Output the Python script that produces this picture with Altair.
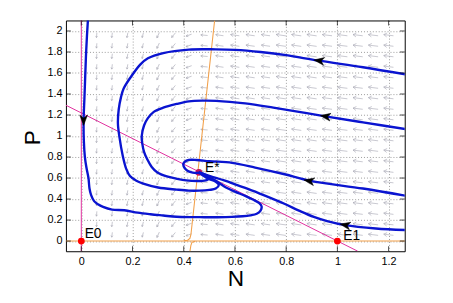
import altair as alt
import pandas as pd

# ---------------- data ----------------
# trajectories (N, P)
t1_N = [1.27, 1.10, 0.928, 0.80, 0.70, 0.60, 0.525, 0.42, 0.32, 0.26, 0.23, 0.19, 0.165, 0.155, 0.146, 0.143,
        0.149, 0.162, 0.175, 0.19, 0.215, 0.245, 0.30, 0.372, 0.42, 0.46, 0.50, 0.525, 0.537, 0.525, 0.50, 0.475, 0.459]
t1_P = [1.585, 1.655, 1.717, 1.77, 1.80, 1.82, 1.825, 1.823, 1.79, 1.74, 1.68, 1.55, 1.45, 1.37, 1.25, 1.12,
        0.99, 0.81, 0.69, 0.62, 0.575, 0.545, 0.51, 0.49, 0.48, 0.48, 0.487, 0.50, 0.535, 0.565, 0.59, 0.625, 0.654]

t2_N = [1.27, 1.10, 0.953, 0.85, 0.75, 0.64, 0.526, 0.475, 0.42, 0.372, 0.32, 0.283, 0.26, 0.245, 0.236, 0.238,
        0.245, 0.258, 0.275, 0.296, 0.334, 0.37, 0.41, 0.46, 0.49, 0.50, 0.49, 0.475, 0.459]
t2_P = [1.065, 1.13, 1.187, 1.23, 1.27, 1.31, 1.335, 1.337, 1.33, 1.305, 1.27, 1.23, 1.17, 1.10, 1.0, 0.93,
        0.85, 0.776, 0.705, 0.655, 0.615, 0.595, 0.578, 0.572, 0.58, 0.60, 0.625, 0.642, 0.654]

t3_N = [1.27, 1.10, 0.895, 0.794, 0.679, 0.589, 0.50, 0.45, 0.42, 0.404, 0.398, 0.405, 0.417, 0.435, 0.449, 0.459]
t3_P = [0.43, 0.50, 0.573, 0.636, 0.70, 0.745, 0.76, 0.772, 0.772, 0.755, 0.73, 0.69, 0.666, 0.652, 0.648, 0.654]

t4_N = [1.27, 1.15, 1.03, 0.96, 0.908, 0.85, 0.793, 0.717, 0.653, 0.60, 0.564, 0.50, 0.459]
t4_P = [0.105, 0.12, 0.152, 0.19, 0.23, 0.29, 0.355, 0.433, 0.495, 0.54, 0.573, 0.62, 0.654]

t5_N = [0.026, 0.022, 0.018, 0.015, 0.012, 0.009, 0.01, 0.014, 0.02, 0.028, 0.032, 0.038, 0.05, 0.065, 0.085,
        0.12, 0.168, 0.22, 0.27, 0.32, 0.372, 0.43, 0.48, 0.53, 0.589, 0.63, 0.66, 0.685, 0.70, 0.704, 0.695,
        0.67, 0.64, 0.60, 0.565, 0.54, 0.513, 0.49, 0.468, 0.459]
t5_P = [2.11, 1.95, 1.75, 1.55, 1.35, 1.15, 0.95, 0.80, 0.70, 0.60, 0.50, 0.44, 0.38, 0.35, 0.325,
        0.30, 0.293, 0.27, 0.255, 0.243, 0.231, 0.228, 0.227, 0.227, 0.23, 0.236, 0.245, 0.26, 0.29, 0.33, 0.36,
        0.395, 0.43, 0.47, 0.51, 0.55, 0.59, 0.62, 0.64, 0.654]

# direction arrowheads on trajectories
arrow_N = [0.928, 0.953, 0.889, 1.03, 0.009]
arrow_P = [1.717, 1.187, 0.573, 0.152, 1.15]
arrow_angle = [188, 189, 190, 191, 90]

# nullclines
mag_N = [[0, 0], [-0.06, 1.079]]
mag_P = [[-0.1, 2.15], [1.293, -0.096]]
ora_N = [[-0.07, 1.27], [0.5206, 0.428, 0.424, 0.415, 0.40], [0.445, 0.432, 0.428, 0.424]]
ora_P = [[0, 0], [2.1, 0.06, 0.025, 0.008, 0.003], [-0.003, -0.012, -0.04, -0.1]]

# equilibria
eq_N = [0, 1, 0.459]
eq_P = [0, 0, 0.654]
eq_color = ["#ff0000", "#ff0000", "#c0105a"]
lab_text = ["E0", "E1", "E*"]
lab_N = [0.013, 1.023, 0.483]
lab_P = [0.03, 0.012, 0.655]

# direction field grid
field_cols = [0.06, 0.12, 0.18, 0.24, 0.30, 0.36, 0.42, 0.48, 0.54, 0.60, 0.66, 0.72, 0.78, 0.84, 0.90,
              0.96, 1.02, 1.08, 1.14, 1.20]
field_rows = [0.06, 0.16, 0.26, 0.36, 0.46, 0.56, 0.66, 0.76, 0.86, 0.96, 1.06, 1.16, 1.26, 1.36, 1.46,
              1.56, 1.66, 1.76, 1.86, 1.96]
field_angle = [95, 97, 100, 105, 115, 130, 160, 185, 188, 188, 188, 188, 188, 188, 188, 187, 187, 187, 187, 187]
field_len = [5, 5, 5, 5, 6, 6, 6, 7, 8, 9, 9, 9, 10, 10, 10, 10, 10, 10, 10, 10]

x_ticks = [0, 0.2, 0.4, 0.6, 0.8, 1, 1.2]
y_ticks = [0, 0.2, 0.4, 0.6, 0.8, 1, 1.2, 1.4, 1.6, 1.8, 2]

# ---------------- build tables ----------------
W, H = 345, 235
FONT = "Liberation Sans"

def lines_df(Ns, Ps):
    rows = []
    for k, (nn, pp) in enumerate(zip(Ns, Ps)):
        for i, (a, b) in enumerate(zip(nn, pp)):
            rows.append({"id": k, "i": i, "N": a, "P": b})
    return pd.DataFrame(rows)

traj = lines_df([t1_N, t2_N, t3_N, t4_N, t5_N], [t1_P, t2_P, t3_P, t4_P, t5_P])
mag = lines_df(mag_N, mag_P)
ora = lines_df(ora_N, ora_P)

field = pd.DataFrame([
    {"N": c, "P": r, "ang": a, "sz": l * l}
    for c, a, l in zip(field_cols, field_angle, field_len) for r in field_rows
])
arrows = pd.DataFrame({"N": arrow_N, "P": arrow_P, "ang": arrow_angle})
eq = pd.DataFrame({"N": eq_N, "P": eq_P, "c": eq_color})
labs = pd.DataFrame({"N": lab_N, "P": lab_P, "t": lab_text})
xt = pd.DataFrame({"N": x_ticks})
yt = pd.DataFrame({"P": y_ticks})

xs = alt.Scale(domain=[-0.06, 1.263], nice=False, zero=False)
ys = alt.Scale(domain=[-0.097, 2.1], nice=False, zero=False)

xaxis = alt.Axis(values=x_ticks, format="~g", grid=True, gridDash=[1, 2], gridColor="#000000",
                 gridOpacity=0.5, gridWidth=0.8, ticks=False, domain=False, labelFont=FONT,
                 labelFontSize=11, labelColor="#000000", labelPadding=4, title="N", titleFont=FONT,
                 titleFontSize=23, titleFontWeight="normal", titleColor="#000000",
                 titleBaseline="alphabetic", titleY=35)
yaxis = alt.Axis(values=y_ticks, format="~g", grid=True, gridDash=[1, 2], gridColor="#000000",
                 gridOpacity=0.5, gridWidth=0.8, ticks=False, domain=False, labelFont=FONT,
                 labelFontSize=11, labelColor="#000000", labelPadding=4, title="P", titleFont=FONT,
                 titleFontSize=23, titleFontWeight="normal", titleColor="#000000",
                 titleAngle=270, titleBaseline="alphabetic", titleAlign="center", titleX=-27, titleY=119)

X = alt.X("N:Q", scale=xs, axis=xaxis)
Y = alt.Y("P:Q", scale=ys, axis=yaxis)

ARROW_FIELD = "M-1,0L1,0M1,0L0.35,-0.4M1,0L0.35,0.4"
ARROW_HEAD = "M1,0L-1,-0.75L-0.45,0L-1,0.75Z"

field_layer = alt.Chart(field).mark_point(shape=ARROW_FIELD, filled=False, stroke="#a8a8b4",
                                          strokeWidth=0.6, opacity=1).encode(
    x=X, y=Y, angle=alt.Angle("ang:Q", scale=None), size=alt.Size("sz:Q", scale=None))

mag_layer = alt.Chart(mag).mark_line(color="#e0309e", strokeWidth=1, clip=True).encode(
    x=X, y=Y, detail="id:N", order="i:Q")
ora_layer = alt.Chart(ora).mark_line(color="#f2a04a", strokeWidth=1.1, clip=True).encode(
    x=X, y=Y, detail="id:N", order="i:Q")

eq_layer = alt.Chart(eq).mark_circle(size=48, opacity=1).encode(
    x=X, y=Y, color=alt.Color("c:N", scale=None))

traj_layer = alt.Chart(traj).mark_line(color="#0a14d0", strokeWidth=2.4, clip=True,
                                       interpolate="catmull-rom").encode(
    x=X, y=Y, detail="id:N", order="i:Q")

head_layer = alt.Chart(arrows).mark_point(shape=ARROW_HEAD, filled=True, fill="#000000",
                                          stroke="#000000", strokeWidth=0.5, opacity=1, size=110).encode(
    x=X, y=Y, angle=alt.Angle("ang:Q", scale=None))

lab_layer = alt.Chart(labs).mark_text(align="left", baseline="alphabetic", font=FONT, fontSize=14,
                                      color="#000000").encode(x=X, y=Y, text="t:N")

tick_b = alt.Chart(xt).mark_tick(orient="vertical", size=5, thickness=1, color="#000000").encode(
    x=X, y=alt.value(H - 2.5))
tick_t = alt.Chart(xt).mark_tick(orient="vertical", size=5, thickness=1, color="#000000").encode(
    x=X, y=alt.value(2.5))
tick_l = alt.Chart(yt).mark_tick(orient="horizontal", size=5, thickness=1, color="#000000").encode(
    y=Y, x=alt.value(2.5))
tick_r = alt.Chart(yt).mark_tick(orient="horizontal", size=5, thickness=1, color="#000000").encode(
    y=Y, x=alt.value(W - 2.5))

chart = alt.layer(
    field_layer, mag_layer, ora_layer, eq_layer, traj_layer, head_layer, lab_layer,
    tick_b, tick_t, tick_l, tick_r
).properties(
    width=W, height=H,
    autosize=alt.AutoSizeParams(type="none"),
    padding={"left": 59, "top": 10, "right": 41, "bottom": 50},
    background="white",
).configure_view(stroke="#000000", strokeWidth=1)

chart.save("out.html", embed_options={"renderer": "svg", "actions": False})
